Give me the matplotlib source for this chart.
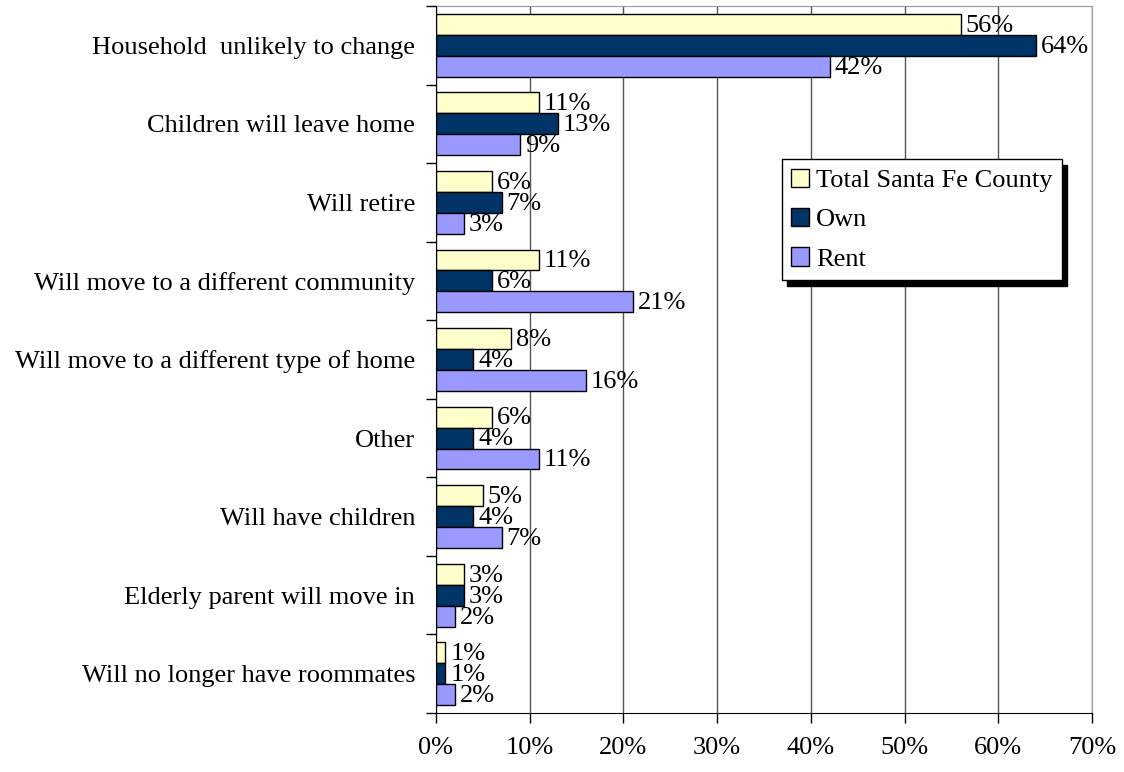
import numpy as np
import matplotlib
matplotlib.use("Agg")
import matplotlib.pyplot as plt
from matplotlib.ticker import FixedLocator

categories = ["Household  unlikely to change", "Children will leave home", "Will retire",
              "Will move to a different community", "Will move to a different type of home",
              "Other", "Will have children", "Elderly parent will move in",
              "Will no longer have roommates"]
total = [56, 11, 6, 11, 8, 6, 5, 3, 1]
own = [64, 13, 7, 6, 4, 4, 4, 3, 1]
rent = [42, 9, 3, 21, 16, 11, 7, 2, 2]
series_names = ["Total Santa Fe County", "Own", "Rent"]
xticks = [0, 10, 20, 30, 40, 50, 60, 70]

plt.rcParams['font.family'] = ['Liberation Serif', 'DejaVu Serif']
FS = 19

fig = plt.figure(figsize=(11.24, 7.72), dpi=100)
ax = fig.add_axes([436/1124, 1-713/772, (1092-436)/1124, (713-6)/772])

colors = ['#FFFFCC', '#003366', '#9999FF']
n = len(categories)
y = np.arange(n)
h = 0.8 / 3
for k, (vals, col, name) in enumerate(zip([total, own, rent], colors, series_names)):
    pos = y - 0.4 + h * (k + 0.5)
    ax.barh(pos, vals, height=h, color=col, edgecolor='black', linewidth=1, label=name, zorder=3)
    for p, v in zip(pos, vals):
        ax.annotate(f"{v}%", (v, p), xytext=(3.5, -1), textcoords='offset points',
                    va='center', ha='left', fontsize=FS, zorder=4, annotation_clip=False)

ax.set_ylim(n - 0.5, -0.5)
ax.set_xlim(0, 70)
ax.set_yticks(y)
ax.set_yticklabels(categories, fontsize=FS)
ax.yaxis.set_minor_locator(FixedLocator(np.arange(-0.5, n, 1)))
ax.tick_params(axis='y', which='major', length=0, pad=15)
ax.tick_params(axis='y', which='minor', length=7, width=1, color='black', direction='out')
ax.set_xticks(xticks)
ax.set_xticklabels([f"{t}%" for t in xticks], fontsize=FS)
ax.tick_params(axis='x', length=7, width=1, color='black', direction='out', pad=10)

ax.grid(axis='x', color='#555555', linewidth=1, zorder=0)
ax.set_axisbelow(True)
for s in ['top', 'right']:
    ax.spines[s].set_color('#999999')
for s in ['left', 'bottom']:
    ax.spines[s].set_color('black')
    ax.spines[s].set_zorder(5)

leg = ax.legend(loc='upper left', bbox_to_anchor=(0.527, 0.783), borderaxespad=0,
                fontsize=FS, frameon=True, fancybox=False, framealpha=1,
                edgecolor='black', handlelength=0.7, handleheight=0.7, handletextpad=0.25,
                labelspacing=0.6, borderpad=0.35,
                shadow={'color': 'black', 'alpha': 1, 'ox': 4, 'oy': -4})
leg.get_frame().set_linewidth(1)

fig.savefig("out.png", dpi=100)
